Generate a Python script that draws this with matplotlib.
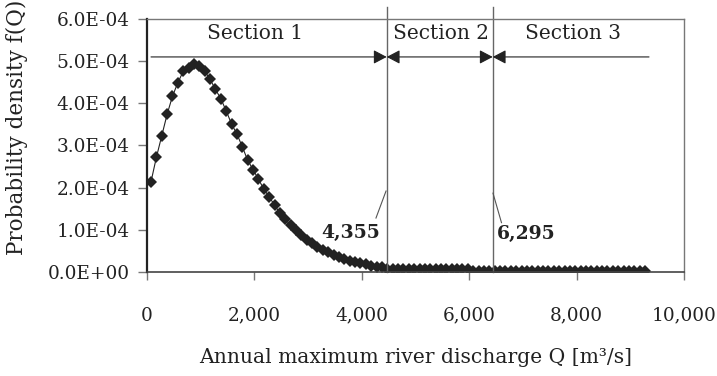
import numpy as np
import matplotlib
matplotlib.use('Agg')
from matplotlib import pyplot as plt
from matplotlib.ticker import FuncFormatter, MultipleLocator

# discharge bins (m3/s) and probability density (x 1e-4)
discharge = [
    75, 175, 275, 375, 475, 575, 675, 775, 875, 975,
    1075, 1175, 1275, 1375, 1475, 1575, 1675, 1775, 1875, 1975,
    2075, 2175, 2275, 2375, 2475, 2575, 2675, 2775, 2875, 2975,
    3075, 3175, 3275, 3375, 3475, 3575, 3675, 3775, 3875, 3975,
    4075, 4175, 4275, 4375, 4475, 4575, 4675, 4775, 4875, 4975,
    5075, 5175, 5275, 5375, 5475, 5575, 5675, 5775, 5875, 5975,
    6075, 6175, 6275, 6375, 6475, 6575, 6675, 6775, 6875, 6975,
    7075, 7175, 7275, 7375, 7475, 7575, 7675, 7775, 7875, 7975,
    8075, 8175, 8275, 8375, 8475, 8575, 8675, 8775, 8875, 8975,
    9075, 9175, 9275,
]
density_e4 = [
    2.14, 2.72, 3.23, 3.74, 4.17, 4.49, 4.76, 4.84, 4.93, 4.88,
    4.76, 4.57, 4.33, 4.11, 3.82, 3.51, 3.27, 2.97, 2.65, 2.43,
    2.20, 1.97, 1.78, 1.59, 1.39, 1.25, 1.11, 1.00, 0.88, 0.76,
    0.69, 0.60, 0.53, 0.47, 0.41, 0.36, 0.30, 0.26, 0.24, 0.22,
    0.19, 0.15, 0.13, 0.11, 0.08, 0.075, 0.075, 0.08, 0.075, 0.075,
    0.075, 0.08, 0.075, 0.075, 0.075, 0.075, 0.08, 0.075, 0.075, 0.07,
    0.03, 0.03, 0.03, 0.03, 0.03, 0.03, 0.03, 0.03, 0.03, 0.03,
    0.03, 0.03, 0.03, 0.03, 0.03, 0.03, 0.03, 0.03, 0.03, 0.03,
    0.03, 0.03, 0.03, 0.03, 0.03, 0.03, 0.03, 0.03, 0.03, 0.03,
    0.03, 0.03, 0.03,
]
# section boundaries as drawn, and the labels printed next to them
boundaries = [4464, 6438]
boundary_labels = ['4,355', '6,295']
section_names = ['Section 1', 'Section 2', 'Section 3']
arrow_start, arrow_end = 75, 9348

plt.rcParams['font.family'] = ['DejaVu Serif']
ink = '#222222'

fig = plt.figure(figsize=(7.17, 3.76), dpi=100)
ax = fig.add_axes([0.205, 0.2766, 0.749, 0.6729])

density = np.array(density_e4) * 1e-4
ax.plot(discharge, density, color=ink, lw=0.8, marker='D', markersize=6.0,
        markeredgewidth=0, markerfacecolor=ink)

ax.set_xlim(0, 10000)
ax.set_ylim(0, 6e-4)
ax.xaxis.set_major_locator(MultipleLocator(2000))
ax.yaxis.set_major_locator(MultipleLocator(1e-4))
ax.xaxis.set_major_formatter(FuncFormatter(lambda v, p: f'{int(round(v)):,}'))
ax.yaxis.set_major_formatter(FuncFormatter(lambda v, p: f'{v:.1E}'))
ax.tick_params(axis='both', direction='out', labelsize=13.3, colors='#777777',
               labelcolor=ink, width=1)
ax.tick_params(axis='y', length=6.5, pad=6)
ax.tick_params(axis='x', length=6, pad=19)

ax.spines['left'].set_color(ink)
ax.spines['left'].set_linewidth(1.6)
ax.spines['bottom'].set_color('#444444')
ax.spines['bottom'].set_linewidth(1.2)
for side in ['top', 'right']:
    ax.spines[side].set_color('#777777')
    ax.spines[side].set_linewidth(1.0)

ax.set_xlabel('Annual maximum river discharge Q [m³/s]', fontsize=14.6,
              color=ink)
ax.xaxis.set_label_coords(0.5, -0.302)
ax.set_ylabel('Probability density f(Q)', fontsize=15.5, color=ink)
ax.yaxis.set_label_coords(-0.222, 0.573)

# section boundaries
for b in boundaries:
    ax.plot([b, b], [0, 6.28e-4], color='#666666', lw=1.0, clip_on=False)

# section arrows
y_arrow = 5.1e-4
segments = [
    (arrow_start, boundaries[0], '-|>,head_length=0.8,head_width=0.42'),
    (boundaries[0], boundaries[1], '<|-|>,head_length=0.8,head_width=0.42'),
    (boundaries[1], arrow_end, '<|-,head_length=0.8,head_width=0.42'),
]
for x0, x1, style in segments:
    ax.annotate('', xy=(x1, y_arrow), xytext=(x0, y_arrow),
                arrowprops=dict(arrowstyle=style, color=ink, lw=0.8,
                                shrinkA=0, shrinkB=0, mutation_scale=10))

section_x = [2020, 5475, 7933]
for name, sx in zip(section_names, section_x):
    ax.text(sx, 5.66e-4, name, ha='center', va='center', fontsize=14.5,
            color=ink)

# boundary labels with leader lines
ax.text(3800, 0.93e-4, boundary_labels[0], ha='center', va='center',
        fontsize=13.5, fontweight='bold', color=ink)
ax.plot([4264, 4451], [1.28e-4, 1.92e-4], color='#555555', lw=0.8)
ax.text(6520, 0.91e-4, boundary_labels[1], ha='left', va='center',
        fontsize=13.5, fontweight='bold', color=ink)
ax.plot([6443, 6601], [1.87e-4, 1.17e-4], color='#555555', lw=0.8)

fig.savefig('out.png', dpi=100)
